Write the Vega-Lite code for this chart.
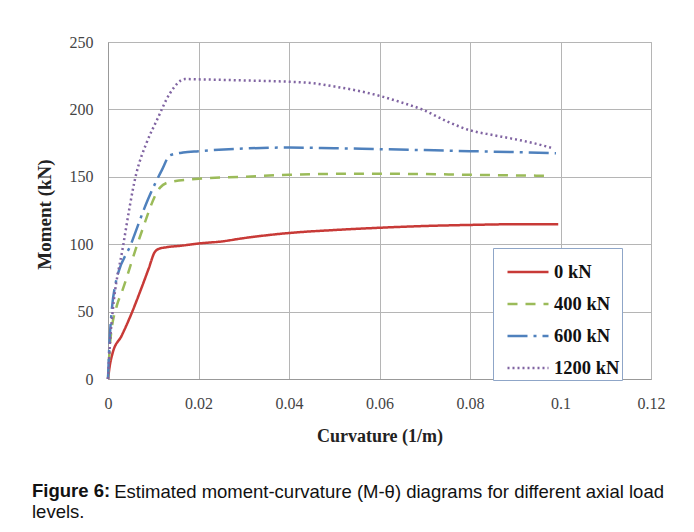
{
  "$schema": "https://vega.github.io/schema/vega-lite/v6.json",
  "autosize": {"type": "none"},
  "padding": {"left": 108, "top": 42, "right": 43, "bottom": 153},
  "width": 543,
  "height": 337,
  "background": "white",
  "title": {
    "text": "Figure 6:",
    "subtitle": ["\u200b\u00a0\u00a0\u00a0\u00a0\u00a0\u00a0\u00a0\u00a0\u00a0\u00a0\u00a0\u00a0\u00a0\u00a0\u00a0\u00a0Estimated moment-curvature (M-θ) diagrams for different axial load", "levels."],
    "orient": "bottom",
    "anchor": "start",
    "frame": "group",
    "dx": -76,
    "offset": 37,
    "font": "Liberation Sans",
    "fontSize": 18.5,
    "fontWeight": "bold",
    "color": "#111",
    "subtitleFont": "Liberation Sans",
    "subtitleFontSize": 18.5,
    "subtitleFontWeight": "normal",
    "subtitleColor": "#111",
    "subtitleLineHeight": 20,
    "subtitlePadding": -18
  },
  "data": {
    "values": [
      {"c": 0, "m": 0, "load": "0 kN"},
      {"c": 0.0004, "m": 10, "load": "0 kN"},
      {"c": 0.001, "m": 19, "load": "0 kN"},
      {"c": 0.003, "m": 32, "load": "0 kN"},
      {"c": 0.005, "m": 47, "load": "0 kN"},
      {"c": 0.007, "m": 64, "load": "0 kN"},
      {"c": 0.009, "m": 82, "load": "0 kN"},
      {"c": 0.0103, "m": 94, "load": "0 kN"},
      {"c": 0.0112, "m": 96.5, "load": "0 kN"},
      {"c": 0.013, "m": 97.8, "load": "0 kN"},
      {"c": 0.016, "m": 98.8, "load": "0 kN"},
      {"c": 0.02, "m": 100.5, "load": "0 kN"},
      {"c": 0.025, "m": 102, "load": "0 kN"},
      {"c": 0.03, "m": 104.5, "load": "0 kN"},
      {"c": 0.04, "m": 108.3, "load": "0 kN"},
      {"c": 0.05, "m": 110.5, "load": "0 kN"},
      {"c": 0.06, "m": 112.2, "load": "0 kN"},
      {"c": 0.07, "m": 113.5, "load": "0 kN"},
      {"c": 0.08, "m": 114.3, "load": "0 kN"},
      {"c": 0.09, "m": 114.8, "load": "0 kN"},
      {"c": 0.0995, "m": 114.8, "load": "0 kN"},

      {"c": 0, "m": 0, "load": "400 kN"},
      {"c": 0.0005, "m": 28, "load": "400 kN"},
      {"c": 0.002, "m": 55, "load": "400 kN"},
      {"c": 0.003, "m": 64, "load": "400 kN"},
      {"c": 0.007, "m": 105, "load": "400 kN"},
      {"c": 0.0115, "m": 142, "load": "400 kN"},
      {"c": 0.0135, "m": 146, "load": "400 kN"},
      {"c": 0.02, "m": 148.5, "load": "400 kN"},
      {"c": 0.03, "m": 150, "load": "400 kN"},
      {"c": 0.04, "m": 151.5, "load": "400 kN"},
      {"c": 0.05, "m": 152.2, "load": "400 kN"},
      {"c": 0.06, "m": 152.3, "load": "400 kN"},
      {"c": 0.07, "m": 152, "load": "400 kN"},
      {"c": 0.08, "m": 151.5, "load": "400 kN"},
      {"c": 0.09, "m": 151, "load": "400 kN"},
      {"c": 0.098, "m": 150.8, "load": "400 kN"},

      {"c": 0, "m": 0, "load": "600 kN"},
      {"c": 0.0003, "m": 25, "load": "600 kN"},
      {"c": 0.0008, "m": 50, "load": "600 kN"},
      {"c": 0.0015, "m": 68, "load": "600 kN"},
      {"c": 0.0052, "m": 101, "load": "600 kN"},
      {"c": 0.0088, "m": 133, "load": "600 kN"},
      {"c": 0.0119, "m": 155, "load": "600 kN"},
      {"c": 0.0137, "m": 166, "load": "600 kN"},
      {"c": 0.0166, "m": 168, "load": "600 kN"},
      {"c": 0.02, "m": 169, "load": "600 kN"},
      {"c": 0.03, "m": 171, "load": "600 kN"},
      {"c": 0.04, "m": 171.7, "load": "600 kN"},
      {"c": 0.05, "m": 171.2, "load": "600 kN"},
      {"c": 0.06, "m": 170.5, "load": "600 kN"},
      {"c": 0.07, "m": 169.8, "load": "600 kN"},
      {"c": 0.08, "m": 169, "load": "600 kN"},
      {"c": 0.09, "m": 168.3, "load": "600 kN"},
      {"c": 0.099, "m": 167.5, "load": "600 kN"},

      {"c": 0, "m": 0, "load": "1200 kN"},
      {"c": 0.0005, "m": 30, "load": "1200 kN"},
      {"c": 0.001, "m": 49, "load": "1200 kN"},
      {"c": 0.0033, "m": 98, "load": "1200 kN"},
      {"c": 0.0063, "m": 153, "load": "1200 kN"},
      {"c": 0.0085, "m": 175, "load": "1200 kN"},
      {"c": 0.0108, "m": 192, "load": "1200 kN"},
      {"c": 0.0137, "m": 212, "load": "1200 kN"},
      {"c": 0.017, "m": 222.5, "load": "1200 kN"},
      {"c": 0.02, "m": 222.3, "load": "1200 kN"},
      {"c": 0.03, "m": 221.5, "load": "1200 kN"},
      {"c": 0.04, "m": 220.5, "load": "1200 kN"},
      {"c": 0.045, "m": 219.5, "load": "1200 kN"},
      {"c": 0.05, "m": 217, "load": "1200 kN"},
      {"c": 0.055, "m": 214, "load": "1200 kN"},
      {"c": 0.0606, "m": 209.5, "load": "1200 kN"},
      {"c": 0.065, "m": 205, "load": "1200 kN"},
      {"c": 0.0694, "m": 200, "load": "1200 kN"},
      {"c": 0.075, "m": 191, "load": "1200 kN"},
      {"c": 0.08, "m": 184.5, "load": "1200 kN"},
      {"c": 0.085, "m": 181, "load": "1200 kN"},
      {"c": 0.089, "m": 178.5, "load": "1200 kN"},
      {"c": 0.094, "m": 175, "load": "1200 kN"},
      {"c": 0.098, "m": 171.5, "load": "1200 kN"}
    ]
  },
  "mark": {"type": "line", "strokeWidth": 2.5, "interpolate": "monotone"},
  "encoding": {
    "x": {
      "field": "c", "type": "quantitative",
      "scale": {"domain": [0, 0.12], "nice": false},
      "axis": {"values": [0, 0.02, 0.04, 0.06, 0.08, 0.1, 0.12], "format": ".2~f", "labelFlush": false, "title": "Curvature (1/m)", "labelPadding": 16, "titleY": 62, "titleBaseline": "alphabetic", "titleAnchor": "middle"}
    },
    "y": {
      "field": "m", "type": "quantitative",
      "scale": {"domain": [0, 250], "nice": false},
      "axis": {"values": [0, 50, 100, 150, 200, 250], "labelFlush": false, "title": "Moment (kN)", "titleFontSize": 19, "labelPadding": 15, "titleX": -58, "titleY": 172, "titleAngle": -90, "titleAlign": "center", "titleBaseline": "alphabetic"}
    },
    "color": {
      "field": "load", "type": "nominal",
      "scale": {"domain": ["0 kN", "400 kN", "600 kN", "1200 kN"], "range": ["#c83a37", "#9bbb59", "#4f81bd", "#8064a2"]},
      "legend": {"title": null, "orient": "none", "legendX": 385, "legendY": 206}
    },
    "strokeDash": {
      "field": "load", "type": "nominal",
      "scale": {"domain": ["0 kN", "400 kN", "600 kN", "1200 kN"], "range": [[1, 0], [10, 8], [20, 6, 3, 6], [2, 3]]},
      "legend": {"title": null, "orient": "none", "legendX": 385, "legendY": 206}
    }
  },
  "config": {
    "view": {"stroke": "#b5b5b5", "strokeWidth": 1},
    "axis": {
      "labelFont": "Liberation Serif", "labelFontSize": 16, "labelColor": "#444",
      "titleFont": "Liberation Serif", "titleFontSize": 18, "titleFontWeight": "bold", "titleColor": "#222",
      "gridColor": "#b5b5b5", "gridWidth": 1, "domainColor": "#999", "tickSize": 0, "ticks": false
    },
    "legend": {
      "symbolType": "stroke", "symbolSize": 1681, "symbolStrokeWidth": 2.5, "symbolOffset": 11,
      "labelFont": "Liberation Serif", "labelFontSize": 18.5, "labelFontWeight": "bold", "labelColor": "#111",
      "strokeColor": "#8fa6c8", "padding": 2, "rowPadding": -4, "labelOffset": 4, "fillColor": "white"
    }
  }
}
